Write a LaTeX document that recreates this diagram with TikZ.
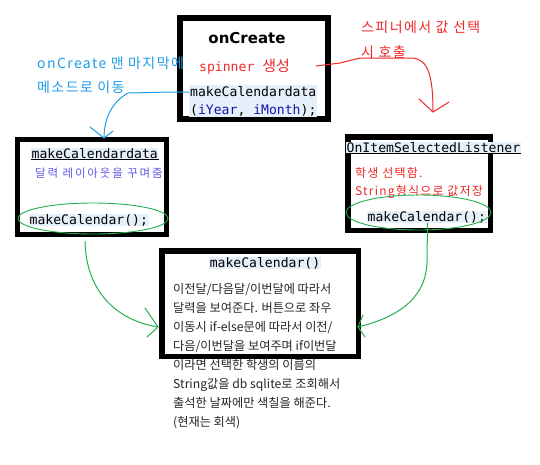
\documentclass[tikz,border=0pt]{standalone}
\usepackage{fontspec}
\setmonofont{DejaVu Sans Mono}
\newfontfamily\kr{Noto Sans CJK KR}
\newfontfamily\krls[LetterSpace=10]{Noto Sans CJK KR}
\newfontfamily\krsm[LetterSpace=10]{Noto Sans CJK KR}
\newfontfamily\krpp[LetterSpace=16]{Noto Sans CJK KR}
\newfontfamily\dvb{DejaVu Sans}
\usetikzlibrary{arrows.meta,calc,shapes.geometric}
\definecolor{hl}{RGB}{230,240,250}
\definecolor{annblue}{RGB}{30,158,230}
\definecolor{annred}{RGB}{240,40,40}
\definecolor{purp}{RGB}{100,90,230}
\definecolor{grn}{RGB}{34,177,76}
\definecolor{varblue}{RGB}{20,20,170}
\tikzset{
  box/.style={draw=black, inner sep=0pt},
  code/.style={font=\ttfamily\fontsize{13.1}{18}\selectfont, fill=hl, inner sep=0.5pt, anchor=west},
  annb/.style={font=\krls\fontsize{14}{16}\selectfont, text=annblue, anchor=west, inner sep=0pt},
  annr/.style={font=\krls\fontsize{14}{16}\selectfont, text=annred, anchor=west, inner sep=0pt},
  smallred/.style={font=\krsm\fontsize{12}{14}\selectfont, text=annred, anchor=west, inner sep=0pt},
  greenell/.style={draw=grn, line width=0.9pt, ellipse, inner sep=0pt},
  hand/.style={line width=1pt, line cap=round, line join=round},
}
\begin{document}
\begin{tikzpicture}[x=1pt,y=-1pt]
\useasboundingbox (0,0) rectangle (540,464);
\fill[white] (0,0) rectangle (540,464);

% onCreate box
\node[box, line width=6pt, minimum width=148pt, minimum height=101pt] (create) at (254,68.5) {};
\node[font=\dvb\bfseries\fontsize{15}{18}\selectfont] (title1) at (247,38) {onCreate};
\node[font=\ttfamily\fontsize{13.1}{15}\selectfont, text=annred, anchor=west, inner sep=0pt] (spin) at (199,67) {spinner {\kr\fontsize{15}{15}\selectfont 생성}};
\node[code, align=left, anchor=north west, inner sep=1pt] (mcd1) at (189,85) {makeCalendardata\\(\textcolor{varblue}{iYear}, \textcolor{varblue}{iMonth});};

% left box
\node[box, line width=5pt, minimum width=149pt, minimum height=95pt] (lbox) at (92,187) {};
\node[code] (ltitle) at (31,154) {makeCalendardata};
\draw[line width=1pt] (ltitle.south west) -- (ltitle.south east);
\node[font=\krpp\fontsize{11.5}{13}\selectfont, text=purp, anchor=west, inner sep=0pt] (lsub) at (35,173) {달력 레이아웃을 꾸며줌};
\node[code] (lcall) at (29,220) {makeCalendar();};
\node[greenell, minimum width=150pt, minimum height=31pt] (ell1) at (93,218.5) {};

% right box
\node[box, line width=5.5pt, minimum width=142.5pt, minimum height=93.5pt] (rbox) at (419,183.5) {};
\node[code] (rtitle) at (346,148) {OnItemSelectedListener};
\draw[line width=1pt] (rtitle.south west) -- (rtitle.south east);
\node[smallred] (rs1) at (355,173) {학생 선택함.};
\node[smallred] (rs2) at (355,192) {String형식으로 값저장};
\node[code] (rcall) at (367,217) {makeCalendar();};
\node[greenell, minimum width=145pt, minimum height=35pt] (ell2) at (418.5,212.5) {};

% bottom box
\node[box, line width=5.5pt, minimum width=196.5pt, minimum height=105.5pt] (bbox) at (260,303.5) {};
\node[code, anchor=center] (btitle) at (265,263) {makeCalendar()};
\node[font=\kr\fontsize{12.2}{19}\selectfont, align=left, anchor=north west, inner sep=0pt, text=black!85] (bbody) at (173,283.5) {이전달/다음달/이번달에 따라서\\달력을 보여준다. 버튼으로 좌우\\이동시 if-else문에 따라서 이전/\\다음/이번달을 보여주며 if이번달\\이라면 선택한 학생의 이름의\\String값을 db sqlite로 조회해서\\출석한 날짜에만 색칠을 해준다.\\(현재는 회색)};

% annotations
\node[annb] (ann1) at (37,63) {onCreate 맨 마지막에};
\node[annb] (ann2) at (37,87) {메소드로 이동};
\node[annr] (ann3) at (361,27) {스피너에서 값 선택};
\node[annr] (ann4) at (361,52) {시 호출};

% blue connector
\coordinate (tipA) at (104,138);
\draw[hand, annblue] ($(mcd1.north west)+(0,7)$) -- ++(-18,0) -- (128,93) .. controls (112,102) and (104,118) .. (tipA);
\draw[hand, annblue] (90,127) -- (tipA) -- (113,131);

% red connector
\coordinate (tipB) at (433,112);
\draw[hand, annred] (316,66) -- (340,63) -- (360,58) -- (413,58) .. controls (428,60) and (433,75) .. (tipB);
\draw[hand, annred] (419,99) -- (tipB) -- (449,102);

% green connectors
\coordinate (tipC) at (158,327);
\draw[hand, grn] ($(ell1.south)+(-8,7)$) .. controls (86,290) and (115,320) .. (tipC);
\draw[hand, grn] (145,308) -- (tipC) -- (147,337);
\coordinate (tipD) at (358,327);
\draw[hand, grn] ($(ell2.south)+(9,-7)$) -- (427,262) .. controls (426,300) and (395,318) .. (tipD);
\draw[hand, grn] (363,315) -- (tipD) -- (365,337);
\end{tikzpicture}
\end{document}
